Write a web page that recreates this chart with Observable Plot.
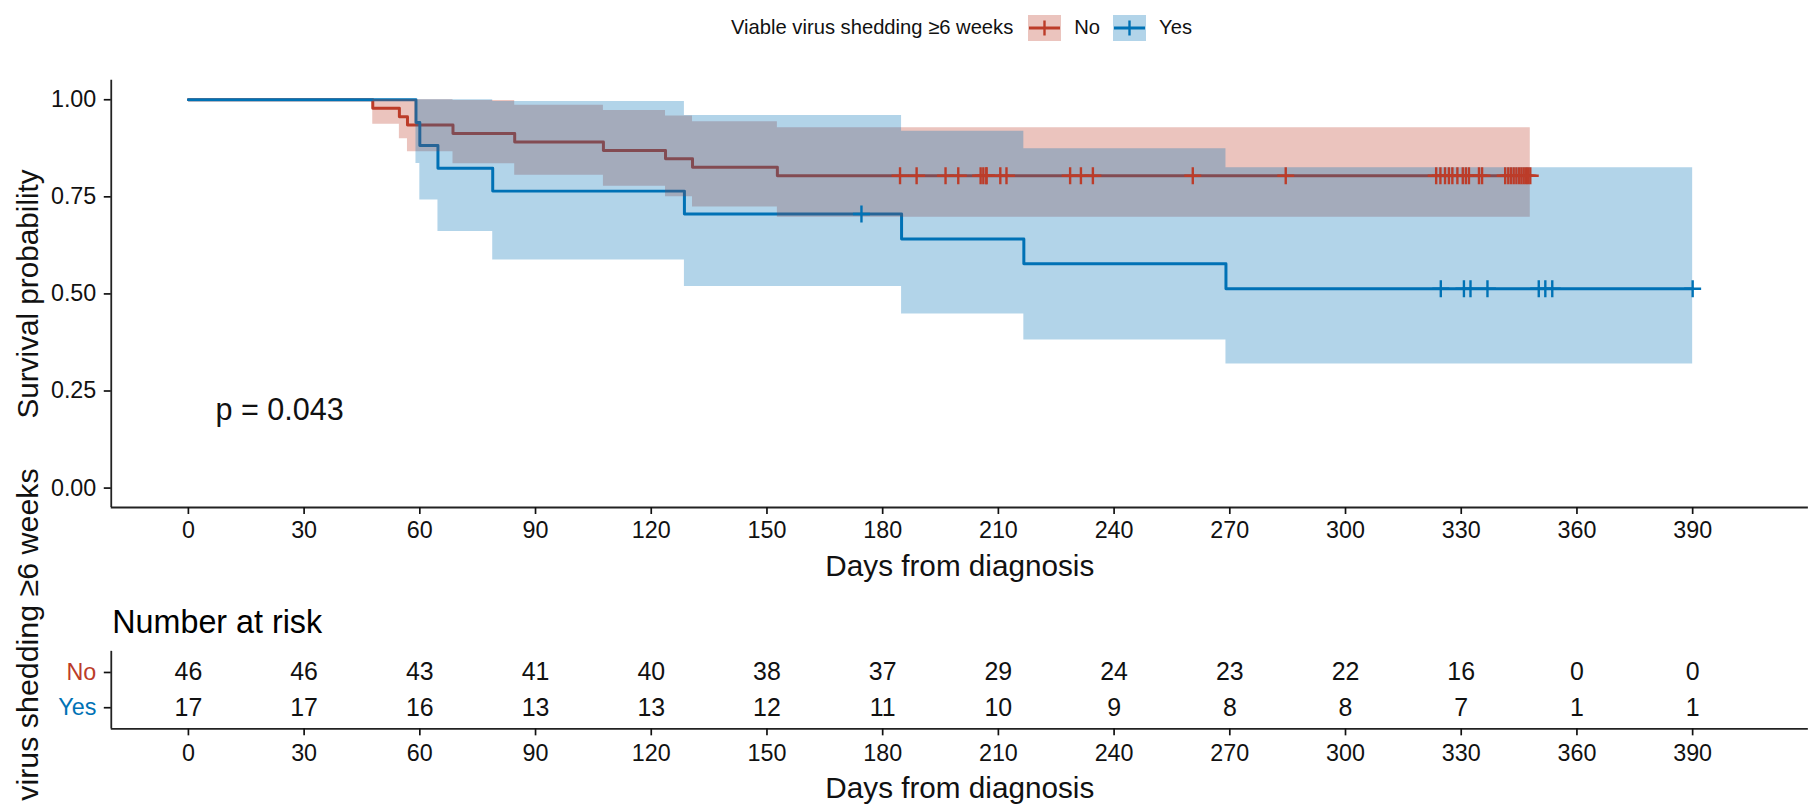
<!DOCTYPE html>
<html>
<head>
<meta charset="utf-8">
<script src="https://cdn.jsdelivr.net/npm/d3@7"></script>
<script src="https://cdn.jsdelivr.net/npm/@observablehq/plot@0.6"></script>
<style>
  html, body { margin: 0; padding: 0; background: #fff; }
  body { width: 1808px; height: 809px; overflow: hidden; position: relative;
         font-family: "Liberation Sans", Arial, sans-serif; color: #111; }
  #km, #risk { position: absolute; left: 0; }
  #km { top: 0; }
  #risk { top: 600px; }
  svg { overflow: visible; }
  #legend { position: absolute; top: 14px; left: 731px; height: 27px;
            display: flex; align-items: center; font-size: 20.2px; white-space: nowrap; z-index: 2; }
  #legend .key { display: block; }
</style>
</head>
<body>
<div id="km"></div>
<div id="risk"></div>
<div id="legend"></div>
<script>
// Strata and their colours
const groups = ["No", "Yes"];
const groupColors = ["#BC3C29", "#0072B5"];
const legendTitle = "Viable virus shedding ≥6 weeks";

// Kaplan–Meier estimate, "No" stratum (step times in days)
const noTime  = [0, 47.8, 54.7, 56.8, 68.6, 84.6, 107.6, 123.7, 130.7, 152.7, 347.9];
const noSurv  = [1, 0.9783, 0.9565, 0.9348, 0.9130, 0.8913, 0.8696, 0.8478, 0.8261, 0.8043, 0.8043];
const noLower = [1, 0.9370, 0.8994, 0.8661, 0.8351, 0.8057, 0.7775, 0.7501, 0.7235, 0.6975, 0.6975];
const noUpper = [1, 1, 1, 1, 0.9982, 0.9860, 0.9726, 0.9582, 0.9432, 0.9276, 0.9276];
const noCensor = [184.5, 188.8, 196.3, 199.6, 205.4, 206.1, 206.9, 206.9,
                  210.5, 212.1, 228.6, 231.4, 234.5, 260.4, 284.5,
                  323.5, 324.6, 325.8, 326.8, 327.7, 329.0,
                  330.4, 331.2, 332.0, 334.6, 335.4, 341.4, 342.2, 342.9,
                  343.6, 344.3, 345.0, 345.6, 346.2, 346.8, 347.3, 347.9];

// Kaplan–Meier estimate, "Yes" stratum
const yesTime  = [0, 59, 60, 64.7, 78.9, 128.6, 184.9, 216.6, 269.0, 390];
const yesSurv  = [1, 0.9412, 0.8824, 0.8235, 0.7647, 0.7059, 0.6417, 0.5775, 0.5134, 0.5134];
const yesLower = [1, 0.8357, 0.7418, 0.6608, 0.5875, 0.5194, 0.4480, 0.3816, 0.3194, 0.3194];
const yesUpper = [1, 1, 1, 1, 0.9954, 0.9594, 0.9191, 0.8741, 0.8251, 0.8251];
const yesCensor = [174.5, 324.7, 330.7, 332.4, 336.8, 350.1, 351.8, 353.6, 390];

// Number at risk table
const riskTimes = [0, 30, 60, 90, 120, 150, 180, 210, 240, 270, 300, 330, 360, 390];
const riskNo  = [46, 46, 43, 41, 40, 38, 37, 29, 24, 23, 22, 16, 0, 0];
const riskYes = [17, 17, 16, 13, 13, 12, 11, 10, 9, 8, 8, 7, 1, 1];

// Axis ticks and annotation
const yTicks = [0, 0.25, 0.5, 0.75, 1];
const pLabel = "p = 0.043";
const xTitle = "Days from diagnosis";
const yTitle = "Survival probability";
const riskTitle = "Number at risk";

// ---- build tables ----
const steps = (time, surv, lower, upper) =>
  time.map((t, i) => ({t, surv: surv[i], lower: lower[i], upper: upper[i]}));
const noSteps = steps(noTime, noSurv, noLower, noUpper);
const yesSteps = steps(yesTime, yesSurv, yesLower, yesUpper);

const survAt = (rows, t) => {
  let s = rows[0].surv;
  for (const r of rows) if (r.t <= t) s = r.surv;
  return s;
};
const noMarks = noCensor.map(t => ({t, surv: survAt(noSteps, t)}));
const yesMarks = yesCensor.map(t => ({t, surv: survAt(yesSteps, t)}));

const riskRows = [
  ...riskTimes.map((t, i) => ({t, row: 2, n: riskNo[i]})),
  ...riskTimes.map((t, i) => ({t, row: 1, n: riskYes[i]}))
];

// "+" censor glyph
const plus = {
  draw(context, size) {
    const r = Math.sqrt(size / Math.PI);
    context.moveTo(-r, 0); context.lineTo(r, 0);
    context.moveTo(0, -r); context.lineTo(0, r);
  }
};

const font = '"Liberation Sans", Arial, sans-serif';
const ink = "#111";
const [red, blue] = groupColors;
const xDomain = [-20, 420];
const W = 1814, ML = 111.1, MR = 0.1;

// ---- survival curves ----
const km = Plot.plot({
  width: W, height: 600,
  marginLeft: ML, marginRight: MR, marginTop: 80.1, marginBottom: 91.3,
  x: {domain: xDomain, label: null},
  y: {domain: [-0.05, 1.05], label: null},
  style: {fontFamily: font, background: "transparent", color: ink},
  marks: [
    Plot.line(noSteps, {x: "t", y: "surv", curve: "step-after", stroke: red, strokeWidth: 3}),
    Plot.line(yesSteps, {x: "t", y: "surv", curve: "step-after", stroke: blue, strokeWidth: 3}),
    Plot.areaY(noSteps, {x: "t", y1: "lower", y2: "upper", curve: "step-after", fill: red, fillOpacity: 0.3}),
    Plot.areaY(yesSteps, {x: "t", y1: "lower", y2: "upper", curve: "step-after", fill: blue, fillOpacity: 0.3}),
    Plot.dot(noMarks, {x: "t", y: "surv", symbol: plus, r: 8.5, stroke: red, strokeWidth: 2.4, fill: "none"}),
    Plot.dot(yesMarks, {x: "t", y: "surv", symbol: plus, r: 8.5, stroke: blue, strokeWidth: 2.4, fill: "none"}),
    Plot.ruleX([xDomain[0]], {stroke: "#222", strokeWidth: 1.8}),
    Plot.ruleY([-0.05], {stroke: "#222", strokeWidth: 1.8}),
    Plot.axisX({ticks: riskTimes, tickSize: 7, tickPadding: 7.3, fontSize: 23.4, label: null, strokeWidth: 1.7}),
    Plot.axisY({ticks: yTicks, tickFormat: d3.format(".2f"), tickSize: 7, tickPadding: 8, fontSize: 23.4, label: null, strokeWidth: 1.7}),
    Plot.text([xTitle], {text: d => d, frameAnchor: "bottom", dy: 68.3, textAnchor: "middle", lineAnchor: "bottom", fontSize: 29.8, fill: ink}),
    Plot.text([yTitle], {text: d => d, frameAnchor: "left", dx: -73.4, rotate: -90, textAnchor: "middle", lineAnchor: "bottom", fontSize: 29.8, fill: ink}),
    Plot.text([pLabel], {text: d => d, x: 7, y: 0.2, textAnchor: "start", lineAnchor: "middle", fontSize: 30.7, fill: ink})
  ]
});
document.getElementById("km").append(km);

// ---- number at risk table ----
const risk = Plot.plot({
  width: W, height: 209,
  marginLeft: ML, marginRight: MR, marginTop: 51, marginBottom: 80.2,
  x: {domain: xDomain, label: null},
  y: {domain: [0.4, 2.6], label: null},
  style: {fontFamily: font, background: "transparent", color: ink},
  marks: [
    Plot.ruleX([xDomain[0]], {stroke: "#222", strokeWidth: 1.8}),
    Plot.ruleY([0.4], {stroke: "#222", strokeWidth: 1.8}),
    Plot.axisX({ticks: riskTimes, tickSize: 7, tickPadding: 8.5, fontSize: 23.4, label: null, strokeWidth: 1.7}),
    Plot.axisY({ticks: [1, 2], tickFormat: () => "", tickSize: 7, label: null, strokeWidth: 1.7}),
    Plot.text([groups[0]], {text: d => d, y: 2, frameAnchor: "left", dx: -15, textAnchor: "end", lineAnchor: "middle", fontSize: 23.4, fill: red}),
    Plot.text([groups[1]], {text: d => d, y: 1, frameAnchor: "left", dx: -15, textAnchor: "end", lineAnchor: "middle", fontSize: 23.4, fill: blue}),
    Plot.text(riskRows, {x: "t", y: "row", text: "n", fontSize: 25, fill: ink}),
    Plot.text([riskTitle], {text: d => d, frameAnchor: "top-left", dx: 1, dy: -28.3, textAnchor: "start", lineAnchor: "middle", fontSize: 32.4, fill: "#000"}),
    Plot.text([xTitle], {text: d => d, frameAnchor: "bottom", dy: 69.2, textAnchor: "middle", lineAnchor: "bottom", fontSize: 29.8, fill: ink}),
    Plot.text([legendTitle], {text: d => d, frameAnchor: "left", dx: -73.4, dy: -9.4, rotate: -90, textAnchor: "middle", lineAnchor: "bottom", fontSize: 30.5, fill: ink})
  ]
});
document.getElementById("risk").append(risk);

// ---- legend ----
const legend = document.getElementById("legend");
const title = document.createElement("span");
title.textContent = legendTitle;
title.style.marginRight = "15px";
legend.append(title);
groups.forEach((g, i) => {
  const c = groupColors[i];
  const ns = "http://www.w3.org/2000/svg";
  const svg = document.createElementNS(ns, "svg");
  svg.setAttribute("width", 33); svg.setAttribute("height", 26);
  svg.setAttribute("class", "key");
  svg.innerHTML =
    `<rect x="0" y="0" width="33" height="26" fill="${c}" fill-opacity="0.3"/>` +
    `<line x1="1" x2="32" y1="13" y2="13" stroke="${c}" stroke-width="3"/>` +
    `<line x1="16.5" x2="16.5" y1="5.5" y2="20.5" stroke="${c}" stroke-width="2.4"/>`;
  const label = document.createElement("span");
  label.textContent = g;
  label.style.marginLeft = "13px";
  label.style.marginRight = i === 0 ? "13px" : "0";
  legend.append(svg, label);
});
</script>
</body>
</html>
